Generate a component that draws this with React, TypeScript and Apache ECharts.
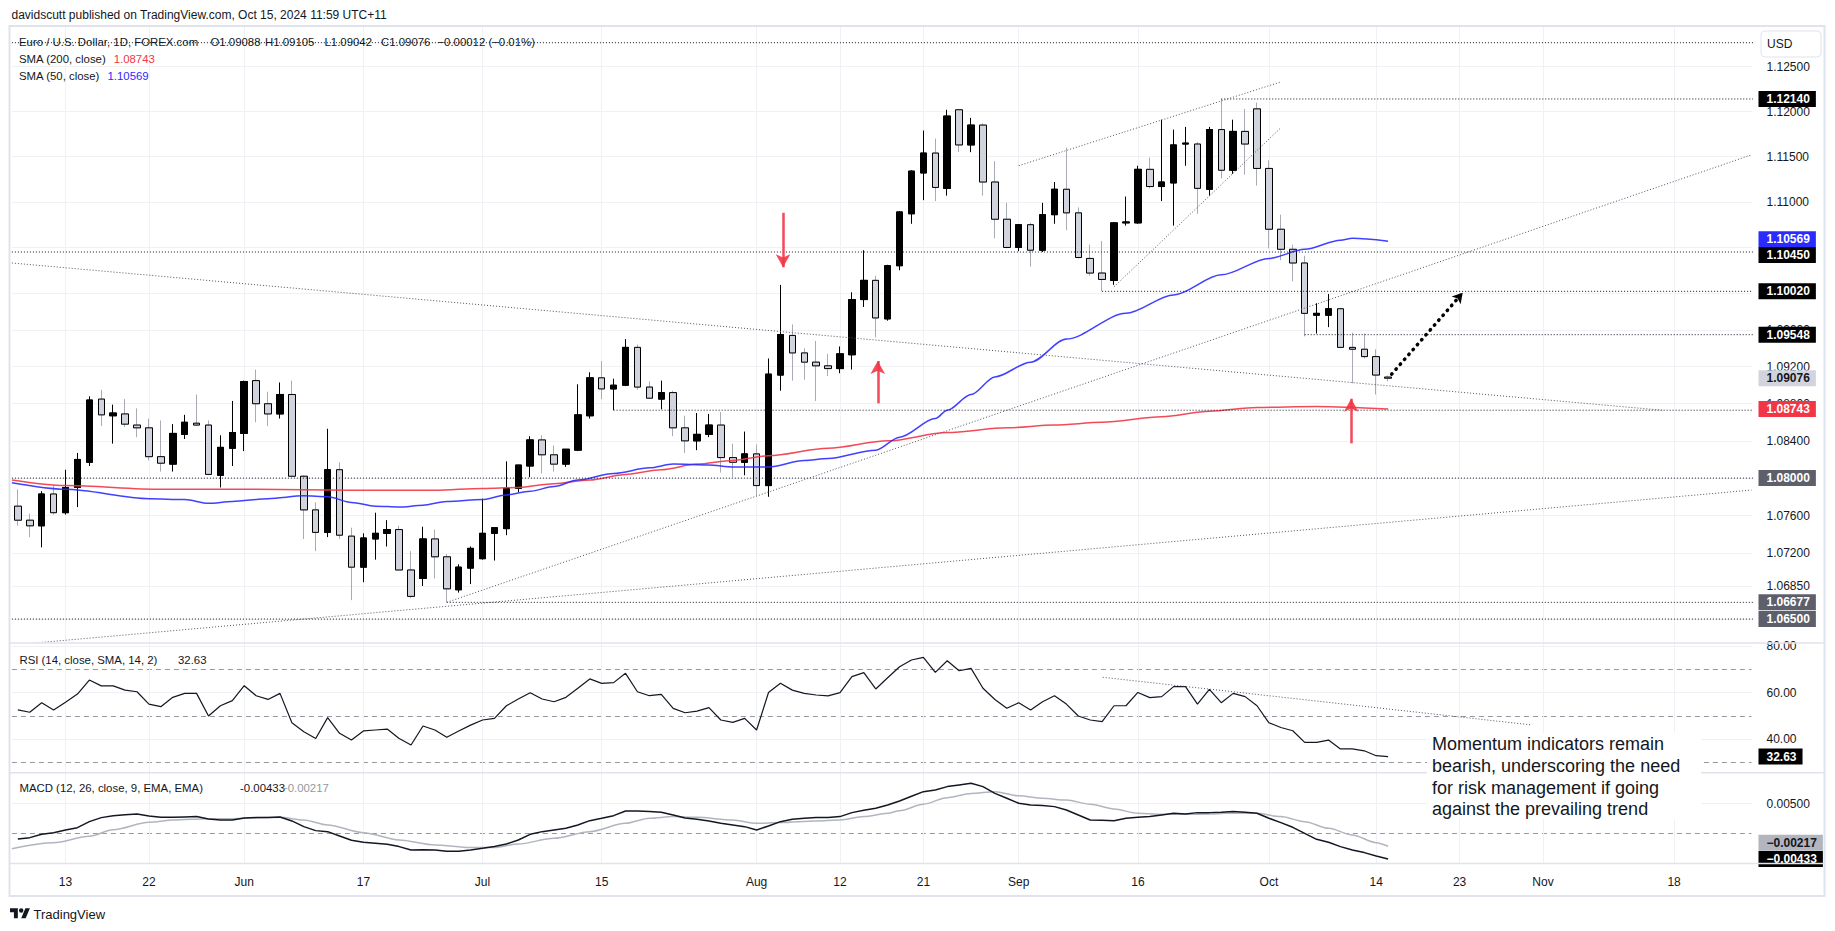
import React, { useEffect, useRef } from "react";
import * as echarts from "echarts";

const FONT = '"Liberation Sans", Arial, sans-serif';
const SLOTS = 146;

function weekdays(y: number, m: number, d: number, count: number): string[] {
  const out: string[] = [];
  let t = Date.UTC(y, m - 1, d);
  while (out.length < count) {
    const dt = new Date(t);
    const wd = dt.getUTCDay();
    if (wd !== 0 && wd !== 6) out.push(dt.toISOString().slice(0, 10));
    t += 86400000;
  }
  return out;
}
const dates = weekdays(2024, 5, 7, SLOTS);

const xTickLabels: [string, string][] = [
  ["2024-05-13", "13"], ["2024-05-22", "22"], ["2024-06-03", "Jun"], ["2024-06-17", "17"],
  ["2024-07-01", "Jul"], ["2024-07-15", "15"], ["2024-08-01", "Aug"], ["2024-08-12", "12"],
  ["2024-08-21", "21"], ["2024-09-02", "Sep"], ["2024-09-16", "16"], ["2024-10-01", "Oct"],
  ["2024-10-14", "14"], ["2024-10-23", "23"], ["2024-11-01", "Nov"], ["2024-11-18", "18"],
];

// [open, high, low, close]
const candles: [number, number, number, number][] = [
  [1.0770, 1.0788, 1.0749, 1.0755], [1.0755, 1.0762, 1.0737, 1.0749], [1.0749, 1.0786, 1.0726, 1.0783], [1.0783, 1.0792, 1.0761, 1.0763],
  [1.0763, 1.0809, 1.0761, 1.0790], [1.0790, 1.0827, 1.0769, 1.0820], [1.0817, 1.0888, 1.0813, 1.0884], [1.0885, 1.0895, 1.0856, 1.0868], [1.0867, 1.0879, 1.0837, 1.0870],
  [1.0869, 1.0885, 1.0855, 1.0858], [1.0857, 1.0875, 1.0844, 1.0854], [1.0854, 1.0864, 1.0819, 1.0823], [1.0823, 1.0862, 1.0807, 1.0816], [1.0815, 1.0858, 1.0807, 1.0848],
  [1.0847, 1.0868, 1.0842, 1.0860], [1.0859, 1.0890, 1.0856, 1.0857], [1.0857, 1.0862, 1.0803, 1.0804], [1.0803, 1.0846, 1.0790, 1.0833], [1.0832, 1.0883, 1.0813, 1.0849],
  [1.0848, 1.0905, 1.0829, 1.0904], [1.0905, 1.0917, 1.0860, 1.0880], [1.0880, 1.0893, 1.0856, 1.0869], [1.0869, 1.0903, 1.0864, 1.0890], [1.0890, 1.0905, 1.0801, 1.0802],
  [1.0802, 1.0803, 1.0735, 1.0766], [1.0766, 1.0774, 1.0722, 1.0742], [1.0742, 1.0853, 1.0737, 1.0809], [1.0809, 1.0817, 1.0735, 1.0739], [1.0738, 1.0747, 1.0670, 1.0705],
  [1.0705, 1.0741, 1.0689, 1.0736], [1.0735, 1.0763, 1.0713, 1.0741], [1.0741, 1.0755, 1.0727, 1.0745], [1.0745, 1.0749, 1.0702, 1.0702], [1.0702, 1.0722, 1.0672, 1.0674],
  [1.0693, 1.0748, 1.0685, 1.0735], [1.0735, 1.0745, 1.0693, 1.0716], [1.0716, 1.0719, 1.0668, 1.0682], [1.0681, 1.0708, 1.0678, 1.0705], [1.0704, 1.0727, 1.0687, 1.0725],
  [1.0714, 1.0778, 1.0713, 1.0741], [1.0741, 1.0747, 1.0712, 1.0747], [1.0746, 1.0818, 1.0739, 1.0789], [1.0789, 1.0814, 1.0785, 1.0814], [1.0813, 1.0845, 1.0801, 1.0841],
  [1.0841, 1.0846, 1.0805, 1.0825], [1.0825, 1.0835, 1.0807, 1.0815], [1.0815, 1.0831, 1.0812, 1.0831], [1.0830, 1.0901, 1.0829, 1.0868], [1.0867, 1.0914, 1.0864, 1.0908],
  [1.0908, 1.0926, 1.0885, 1.0896], [1.0896, 1.0907, 1.0873, 1.0900], [1.0900, 1.0950, 1.0899, 1.0941], [1.0941, 1.0944, 1.0895, 1.0898], [1.0898, 1.0904, 1.0886, 1.0886],
  [1.0885, 1.0905, 1.0874, 1.0892], [1.0892, 1.0894, 1.0845, 1.0854], [1.0854, 1.0867, 1.0827, 1.0840], [1.0840, 1.0870, 1.0830, 1.0847], [1.0847, 1.0869, 1.0844, 1.0857],
  [1.0857, 1.0871, 1.0806, 1.0822], [1.0822, 1.0837, 1.0801, 1.0817], [1.0817, 1.0850, 1.0803, 1.0826], [1.0826, 1.0836, 1.0781, 1.0792], [1.0792, 1.0929, 1.0780, 1.0912],
  [1.0911, 1.1009, 1.0894, 1.0955], [1.0954, 1.0966, 1.0905, 1.0935], [1.0935, 1.0940, 1.0906, 1.0925], [1.0925, 1.0948, 1.0883, 1.0921], [1.0921, 1.0934, 1.0910, 1.0918],
  [1.0918, 1.0942, 1.0913, 1.0934], [1.0933, 1.1001, 1.0917, 1.0993], [1.0993, 1.1047, 1.0985, 1.1014], [1.1014, 1.1019, 1.0952, 1.0973], [1.0972, 1.1031, 1.0970, 1.1030],
  [1.1030, 1.1090, 1.1025, 1.1089], [1.1087, 1.1135, 1.1076, 1.1134], [1.1132, 1.1179, 1.1102, 1.1154], [1.1154, 1.1170, 1.1101, 1.1116], [1.1115, 1.1202, 1.1107, 1.1195],
  [1.1202, 1.1203, 1.1155, 1.1163], [1.1163, 1.1193, 1.1155, 1.1185], [1.1185, 1.1187, 1.1107, 1.1122], [1.1122, 1.1145, 1.1060, 1.1081], [1.1081, 1.1099, 1.1049, 1.1050],
  [1.1050, 1.1075, 1.1046, 1.1075], [1.1075, 1.1077, 1.1029, 1.1047], [1.1047, 1.1099, 1.1045, 1.1086], [1.1086, 1.1122, 1.1076, 1.1114], [1.1114, 1.1160, 1.1069, 1.1088],
  [1.1088, 1.1094, 1.1038, 1.1039], [1.1038, 1.1053, 1.1019, 1.1022], [1.1022, 1.1057, 1.1002, 1.1015], [1.1014, 1.1078, 1.1009, 1.1077], [1.1077, 1.1106, 1.1074, 1.1078],
  [1.1077, 1.1140, 1.1076, 1.1136], [1.1136, 1.1149, 1.1115, 1.1117], [1.1117, 1.1191, 1.1101, 1.1122], [1.1121, 1.1180, 1.1074, 1.1163], [1.1164, 1.1183, 1.1140, 1.1165],
  [1.1164, 1.1166, 1.1087, 1.1115], [1.1114, 1.1183, 1.1107, 1.1180], [1.1180, 1.1214, 1.1126, 1.1135], [1.1135, 1.1191, 1.1131, 1.1178], [1.1178, 1.1203, 1.1130, 1.1164],
  [1.1203, 1.1210, 1.1118, 1.1137], [1.1137, 1.1146, 1.1049, 1.1070], [1.1070, 1.1086, 1.1036, 1.1048], [1.1048, 1.1053, 1.1013, 1.1033], [1.1033, 1.1041, 1.0953, 1.0978],
  [1.0976, 1.0989, 1.0956, 1.0978], [1.0976, 1.0999, 1.0963, 1.0983], [1.0983, 1.0984, 1.0941, 1.0941], [1.0941, 1.0957, 1.0902, 1.0939], [1.0939, 1.0956, 1.0929, 1.0931],
  [1.0931, 1.0939, 1.0890, 1.0911], [1.09088, 1.09105, 1.09042, 1.09076],
];

// [slot, value]
const sma200: [number, number][] = [
  [-0.5, 1.0798], [4, 1.0792], [12, 1.0788], [20, 1.0788], [28, 1.0787], [35, 1.0787], [39, 1.0789], [42, 1.0790],
  [45, 1.0794], [48, 1.0798], [51, 1.0804], [54, 1.0809], [57, 1.0815], [60, 1.0819], [63, 1.0824], [68, 1.0832],
  [73, 1.0840], [78, 1.0849], [83, 1.0854], [87, 1.0857], [91, 1.0860], [96, 1.0866], [100, 1.0872], [104, 1.0876],
  [109, 1.0877], [115, 1.08743],
];
const sma50: [number, number][] = [
  [-0.5, 1.0795], [4, 1.0788], [11, 1.0778], [14, 1.0777], [16, 1.0773], [18, 1.0775], [21, 1.0778], [24, 1.0781],
  [26, 1.0780], [28, 1.0774], [30, 1.0770], [32, 1.0769], [34, 1.0771], [36, 1.0775], [39, 1.0777], [41, 1.0782],
  [43, 1.0786], [45, 1.0791], [47, 1.0798], [50, 1.0805], [53, 1.0811], [55, 1.0815], [58, 1.0814], [60, 1.0812],
  [63, 1.0812], [66, 1.0819], [68, 1.0821], [72, 1.0830], [74, 1.0844], [77, 1.0864], [78, 1.0873], [80, 1.0890],
  [82, 1.0909], [85, 1.0925], [88, 1.0950], [93, 1.0978], [97, 1.0998], [101, 1.1020], [105, 1.1038], [108, 1.1048],
  [111, 1.1058], [112, 1.1060], [115, 1.10569],
];

const rsi: number[] = [
  52.6, 51.6, 55.7, 52.6, 55.9, 59.4, 65.4, 62.9, 62.9, 61.1,
  60.4, 55.1, 54.0, 58.0, 59.7, 59.7, 50.0, 54.4, 56.6, 63.0,
  58.7, 57.1, 59.7, 47.1, 43.3, 40.4, 49.3, 42.6, 39.7, 43.6,
  44.0, 44.4, 40.4, 37.6, 45.7, 44.0, 40.9, 43.6, 46.1, 48.3,
  49.0, 54.4, 57.3, 60.0, 57.3, 56.1, 58.0, 61.9, 65.9, 64.0,
  64.3, 68.3, 60.4, 58.7, 59.3, 53.3, 51.4, 52.1, 53.6, 48.3,
  47.3, 49.0, 44.0, 60.1, 64.0, 61.1, 59.7, 59.0, 58.6, 60.0,
  66.9, 68.6, 61.6, 66.4, 71.1, 74.0, 75.1, 68.7, 73.7, 69.4,
  70.4, 61.9, 57.1, 53.3, 55.7, 52.6, 56.1, 58.7, 55.1, 50.0,
  48.3, 47.6, 54.4, 54.4, 60.1, 57.9, 58.3, 62.6, 62.6, 55.1,
  61.4, 55.7, 59.7, 58.3, 54.4, 47.1, 45.1, 43.7, 38.7, 38.7,
  39.7, 35.9, 35.9, 35.1, 33.0, 32.63,
];

const macd: number[] = [
  -0.00095, -0.00073, -0.00017, 0.00011, 0.00056, 0.00095, 0.00196, 0.00264, 0.00297, 0.00314,
  0.00325, 0.00292, 0.00269, 0.00269, 0.00275, 0.00281, 0.00241, 0.00224, 0.00224, 0.00258,
  0.00264, 0.00264, 0.00275, 0.00208, 0.00112, 0.00045, 0.00028, -0.00045, -0.00118, -0.00152,
  -0.00168, -0.00185, -0.00224, -0.00281, -0.00275, -0.00281, -0.00303, -0.00303, -0.00281, -0.00253,
  -0.00224, -0.00180, -0.00112, -0.00017, 0.00028, 0.00056, 0.00084, 0.00140, 0.00213, 0.00253,
  0.00297, 0.00376, 0.00376, 0.00365, 0.00354, 0.00309, 0.00258, 0.00236, 0.00208, 0.00168,
  0.00140, 0.00112, 0.00056, 0.00123, 0.00196, 0.00236, 0.00253, 0.00264, 0.00264, 0.00281,
  0.00348, 0.00387, 0.00421, 0.00477, 0.00544, 0.00623, 0.00701, 0.00730, 0.00786, 0.00814,
  0.00842, 0.00786, 0.00673, 0.00589, 0.00505, 0.00477, 0.00466, 0.00449, 0.00393, 0.00309,
  0.00224, 0.00219, 0.00213, 0.00253, 0.00269, 0.00281, 0.00309, 0.00337, 0.00325, 0.00348,
  0.00348, 0.00354, 0.00365, 0.00354, 0.00337, 0.00253, 0.00180, 0.00101, 0.00000, -0.00101,
  -0.00152, -0.00224, -0.00281, -0.00325, -0.00382, -0.00433,
];

const signal: [number, number][] = [
  [-0.5, -0.0026], [3, -0.0016], [6, -0.0005], [8, 0.0006], [11, 0.00185], [13, 0.00224], [16, 0.00247], [18, 0.00247],
  [21, 0.00264], [22, 0.00269], [24, 0.00224], [26, 0.0014], [29, 0.00011], [32, -0.00112], [35, -0.00196], [38, -0.00241],
  [40, -0.00241], [42, -0.0018], [45, -0.00084], [48, 0.00028], [51, 0.00168], [53, 0.00253], [55, 0.00281], [57, 0.00269],
  [60, 0.00224], [62, 0.00168], [64, 0.0018], [67, 0.00208], [69, 0.00224], [71, 0.00281], [73, 0.00337], [74, 0.0038],
  [76, 0.0049], [78, 0.006], [80, 0.0067], [82, 0.0070], [84, 0.0063], [86, 0.0059], [88, 0.0056], [90, 0.0049],
  [92, 0.0041], [94, 0.00337], [96, 0.0032], [98, 0.0032], [100, 0.00325], [102, 0.0034], [104, 0.00337], [106, 0.00281],
  [108, 0.00196], [110, 0.00084], [112, -0.00028], [114, -0.00157], [115, -0.00217],
];

// price gridlines; labelled ones are those not hidden behind a tag
const priceGrid = [1.125, 1.12, 1.115, 1.11, 1.105, 1.1, 1.096, 1.092, 1.088, 1.084, 1.08, 1.076, 1.072, 1.0685, 1.065];
const priceLabels = [1.125, 1.12, 1.115, 1.11, 1.096, 1.092, 1.088, 1.084, 1.076, 1.072, 1.0685];
const drawnLevels = [1.1214, 1.1002, 1.09548];
const level1045 = 1.1045;
const roundLevels = [1.08, 1.06677, 1.065];
const lastClose = 1.09076;
const sma200Last = 1.08743;
const sma50Last = 1.10569;
const rsiLast = 32.63;
const macdLast = -0.00433;
const signalLast = -0.00217;

// horizontal drawings: [anchor date or null for full width, price]
const hLines: [string | null, number][] = [
  [null, 1.12768], ["2024-09-25", 1.1214], [null, 1.1045], ["2024-09-11", 1.1002],
  ["2024-10-04", 1.09548], ["2024-07-16", 1.0873], [null, 1.08], ["2024-06-26", 1.06677], [null, 1.065],
];
// trend lines: [[slot, price], [slot, price]]
const trendLines: [[number, number], [number, number]][] = [
  [[-0.5, 1.1033], [138.0, 1.0873]],
  [[36, 1.06677], [145.5, 1.1152]],
  [[-0.5, 1.06226], [145.5, 1.07872]],
  [[84, 1.114], [106, 1.1233]],
  [[92, 1.1007], [106, 1.1182]],
];
// [slot, tail price, head price]
const redArrows: [number, number, number][] = [
  [64.22, 1.10881, 1.10283],
  [72.17, 1.08804, 1.09262],
  [111.9, 1.08373, 1.08854],
];
const projection: [[number, number], [number, number]] = [[115.3, 1.0912], [121.26, 1.10004]];
const rsiTrend: [[number, number], [number, number]] = [[91.05, 66.6], [127.0, 46.2]];

const annotation = [
  "Momentum indicators remain",
  "bearish, underscoring the need",
  "for risk management if going",
  "against the prevailing trend",
];

echarts.graphic.registerShape(
  "tvlogo",
  echarts.graphic.extendPath(
    "M14 22H7V11H0V4h14v18zM28 22h-8l7.5-18h8L28 22zM20 12a4 4 0 1 0 0-8 4 4 0 0 0 0 8z",
    {}
  ) as any
);

const GRID = "#eff1f5";
const INK = "#131722";
const RED = "#f23645";
const BLUE = "#2b2bff";

function buildOption(): any {
  const idx = (d: string) => dates.indexOf(d);
  const tickMap: Record<string, string> = {};
  xTickLabels.forEach(([d, l]) => (tickMap[d] = l));
  const vGrid = xTickLabels.map(([d]) => ({ xAxis: idx(d), label: { show: false } }));
  const RIGHT = SLOTS - 0.5;

  const tag = (v: number, text: string, bg: string, fg: string, dy = 0) => ({
    yAxis: v,
    label: { formatter: text, backgroundColor: bg, color: fg, offset: [0, dy] },
  });

  const helperBase = (xi: number, yi: number) => ({
    type: "line", xAxisIndex: xi, yAxisIndex: yi, data: [], silent: true, clip: false, symbol: "none",
  });

  const gridMarkLine = (items: any[]) => ({
    silent: true, symbol: "none", precision: 8, animation: false, z: 1,
    lineStyle: { color: GRID, width: 1, type: "solid" },
    label: { show: true, position: "end", distance: 15, color: INK, fontFamily: FONT, fontSize: 12 },
    data: items,
  });

  const tagMarkLine = (items: any[]) => ({
    silent: true, symbol: "none", precision: 8, animation: false, z: 20,
    lineStyle: { color: "rgba(0,0,0,0)", width: 0 },
    label: {
      show: true, position: "end", distance: 7, fontFamily: FONT, fontSize: 12, fontWeight: "bold",
      lineHeight: 13, padding: [2, 6, 1, 8],
    },
    data: items,
  });

  const series: any[] = [];

  // main pane grid + tick labels
  series.push({
    ...helperBase(1, 0), z: 1,
    markLine: gridMarkLine([
      ...priceGrid.map((v) =>
        priceLabels.indexOf(v) >= 0
          ? { yAxis: v, label: { formatter: v.toFixed(5) } }
          : { yAxis: v, label: { show: false } }
      ),
      ...vGrid,
    ]),
  });

  // candles: wicks layer then bodies layer
  series.push({
    type: "candlestick", xAxisIndex: 0, yAxisIndex: 0, barWidth: 7, z: 3, silent: true,
    data: candles.map(([o, h, l, c]) => [o, c, l, h]),
    itemStyle: { color: "rgba(0,0,0,0)", color0: "rgba(0,0,0,0)", borderColor: "#000", borderColor0: "#a8abb4", borderWidth: 1 },
  });
  series.push({
    type: "candlestick", xAxisIndex: 0, yAxisIndex: 0, barWidth: 7, z: 4, silent: true,
    data: candles.map(([o, , , c]) => [o, c, Math.min(o, c), Math.max(o, c)]),
    itemStyle: { color: "#000", color0: "#d1d4dc", borderColor: "#000", borderColor0: "#000", borderWidth: 1 },
  });

  // SMAs
  series.push({
    type: "line", xAxisIndex: 1, yAxisIndex: 0, data: sma200, symbol: "none", silent: true, z: 5,
    smooth: 0.3, smoothMonotone: "x", lineStyle: { color: RED, width: 1.5, opacity: 0.9 },
  });
  series.push({
    type: "line", xAxisIndex: 1, yAxisIndex: 0, data: sma50, symbol: "none", silent: true, z: 5,
    smooth: 0.3, smoothMonotone: "x", lineStyle: { color: BLUE, width: 1.5, opacity: 0.9 },
  });

  // horizontal drawn lines
  hLines.forEach(([d, p]) => {
    series.push({
      type: "line", xAxisIndex: 1, yAxisIndex: 0, symbol: "none", silent: true, z: 6, clip: false,
      data: [[d ? idx(d) : -0.5, p], [RIGHT + 0.3, p]],
      lineStyle: { color: INK, width: 1, type: [1, 2] },
    });
  });
  // trend lines
  trendLines.forEach((seg) => {
    series.push({
      type: "line", xAxisIndex: 1, yAxisIndex: 0, symbol: "none", silent: true, z: 6,
      data: seg, lineStyle: { color: "#50535e", width: 1, type: [1, 2] },
    });
  });

  // red arrows
  series.push({
    ...helperBase(1, 0), z: 8,
    markLine: {
      silent: true, precision: 8, animation: false, z: 8, symbol: ["none", "arrow"], symbolSize: [11, 13],
      lineStyle: { color: RED, width: 2.5, type: "solid", opacity: 0.9 },
      label: { show: false },
      data: redArrows.map(([x, a, b]) => [{ coord: [x, a] }, { coord: [x, b] }]),
    },
  });
  // projection arrow
  series.push({
    ...helperBase(1, 0), z: 8,
    markLine: {
      silent: true, precision: 8, animation: false, z: 8, symbol: ["none", "arrow"], symbolSize: [9, 10],
      lineStyle: { color: "#000", width: 3.5, type: [0.5, 6], cap: "round" },
      label: { show: false },
      data: [[{ coord: projection[0] }, { coord: projection[1] }]],
    },
  });

  // main tags
  series.push({
    ...helperBase(1, 0), z: 20,
    markLine: tagMarkLine([
      ...roundLevels.map((v) => tag(v, v.toFixed(5), "#5d606b", "#fff")),
      ...drawnLevels.map((v) => tag(v, v.toFixed(5), "#000", "#fff")),
      tag(level1045, level1045.toFixed(5), "#000", "#fff", 3),
      tag(lastClose, lastClose.toFixed(5), "#d1d4dc", INK),
      tag(sma200Last, sma200Last.toFixed(5), RED, "#fff"),
      tag(sma50Last, sma50Last.toFixed(5), BLUE, "#fff", -2),
    ]),
  });

  // RSI pane
  series.push({
    ...helperBase(3, 1), z: 1,
    markLine: gridMarkLine([
      { yAxis: 80, label: { formatter: "80.00" } },
      { yAxis: 60, label: { formatter: "60.00" } },
      { yAxis: 40, label: { formatter: "40.00" } },
      ...[70, 50, 30].map((v) => ({ yAxis: v, label: { show: false }, lineStyle: { color: "#9598a1", type: [5, 4] } })),
      ...vGrid,
    ]),
  });
  series.push({
    type: "line", xAxisIndex: 2, yAxisIndex: 1, data: rsi, symbol: "none", silent: true, z: 5,
    lineStyle: { color: INK, width: 1.2 },
  });
  series.push({
    type: "line", xAxisIndex: 3, yAxisIndex: 1, data: rsiTrend, symbol: "none", silent: true, z: 6,
    lineStyle: { color: "#50535e", width: 1, type: [1, 2] },
  });
  series.push({
    ...helperBase(3, 1), z: 20,
    markLine: tagMarkLine([tag(rsiLast, rsiLast.toFixed(2), "#000", "#fff")]),
  });

  // MACD pane
  series.push({
    ...helperBase(5, 2), z: 1,
    markLine: gridMarkLine([
      { yAxis: 0.005, label: { formatter: "0.00500" } },
      { yAxis: -0.005, label: { show: false } },
      { yAxis: 0, label: { show: false }, lineStyle: { color: "#9598a1", type: [5, 4] } },
      ...vGrid,
    ]),
  });
  series.push({
    type: "line", xAxisIndex: 5, yAxisIndex: 2, data: signal, symbol: "none", silent: true, z: 5,
    smooth: 0.3, smoothMonotone: "x", lineStyle: { color: "#b2b5be", width: 1.5 },
  });
  series.push({
    type: "line", xAxisIndex: 4, yAxisIndex: 2, data: macd, symbol: "none", silent: true, z: 6,
    lineStyle: { color: INK, width: 1.5 },
  });
  series.push({
    ...helperBase(5, 2), z: 20,
    markLine: tagMarkLine([
      tag(signalLast, "\u22120.00217", "#b2b5be", INK, -3.5),
      tag(macdLast, "\u22120.00433", "#000", "#fff"),
    ]),
  });

  const GL = 11.9, GW = 1739.6;
  const hidden = { show: false, splitLine: { show: false } };
  const valX = (gi: number) => ({ type: "value", gridIndex: gi, min: -0.5, max: RIGHT, ...hidden });

  const LEG = `11.4px ${FONT}`;
  const T = (x: number, y: number, text: string, extra: any = {}) => ({
    type: "text", x, y, z: 100, silent: true,
    style: { text, fill: INK, font: LEG, verticalAlign: "middle", align: "left", ...extra },
  });
  const hl = (y: number) => ({
    type: "line", z: 90, silent: true,
    shape: { x1: 9.5, y1: y, x2: 1824.5, y2: y }, style: { stroke: "#e0e3eb", lineWidth: 1.5 },
  });

  const graphic = [
    { type: "rect", z: 90, silent: true, shape: { x: 9.5, y: 26, width: 1815, height: 870 }, style: { fill: "none", stroke: "#e0e3eb", lineWidth: 2 } },
    hl(643), hl(772.8), hl(863.5),
    { type: "rect", z: 95, silent: true, shape: { x: 1761, y: 31, width: 60, height: 26, r: 4 }, style: { fill: "#fff", stroke: "#e0e3eb", lineWidth: 1 } },
    T(1767, 44, "USD", { font: `12px ${FONT}` }),
    T(11.5, 15, "davidscutt published on TradingView.com, Oct 15, 2024 11:59 UTC+11", { font: `12px ${FONT}` }),
    T(19, 42.3, "Euro / U.S. Dollar, 1D, FOREX.com"),
    T(210.5, 42.3, "O1.09088"),
    T(265, 42.3, "H1.09105"),
    T(324.5, 42.3, "L1.09042"),
    T(381, 42.3, "C1.09076"),
    T(437.4, 42.3, "\u22120.00012 (\u22120.01%)"),
    T(19, 59, "SMA (200, close)"),
    T(113.7, 59, sma200Last.toFixed(5), { fill: RED }),
    T(19, 75.7, "SMA (50, close)"),
    T(107.5, 75.7, sma50Last.toFixed(5), { fill: BLUE }),
    T(19.4, 660, "RSI (14, close, SMA, 14, 2)"),
    T(178, 660, rsiLast.toFixed(2)),
    T(19.4, 788.3, "MACD (12, 26, close, 9, EMA, EMA)"),
    T(240, 788.3, "-0.00433"),
    T(281, 788.3, "\u22120.00217", { fill: "#9598a1" }),
    { type: "rect", z: 98, silent: true, shape: { x: 1427, y: 733, width: 274, height: 86 }, style: { fill: "#fff" } },
    {
      type: "text", x: 1432, y: 733.5, z: 100, silent: true,
      style: { text: annotation.join("\n"), fill: INK, font: `18px ${FONT}`, lineHeight: 21.7, verticalAlign: "top", align: "left" },
    },
    { type: "tvlogo", x: 10, y: 906, scaleX: 0.56, scaleY: 0.56, z: 100, silent: true, style: { fill: INK } },
    T(33.5, 914, "TradingView", { font: `13px ${FONT}` }),
  ];

  return {
    animation: false,
    backgroundColor: "#fff",
    textStyle: { fontFamily: FONT },
    grid: [
      { left: GL, width: GW, top: 26, height: 616 },
      { left: GL, width: GW, top: 643.5, height: 129 },
      { left: GL, width: GW, top: 773, height: 90.3 },
    ],
    xAxis: [
      { type: "category", gridIndex: 0, data: dates, ...hidden },
      valX(0),
      { type: "category", gridIndex: 1, data: dates, ...hidden },
      valX(1),
      {
        type: "category", gridIndex: 2, data: dates,
        axisLine: { show: false }, axisTick: { show: false }, splitLine: { show: false },
        axisLabel: {
          show: true, margin: 13, color: INK, fontSize: 12, fontFamily: FONT,
          showMinLabel: true, showMaxLabel: true,
          interval: (_i: number, v: string) => tickMap[v] !== undefined,
          formatter: (v: string) => tickMap[v] || "",
        },
      },
      valX(2),
    ],
    yAxis: [
      { type: "log", logBase: 10, gridIndex: 0, min: 1.06258, max: 1.12955, ...hidden },
      { type: "value", gridIndex: 1, min: 25.8, max: 81.07, ...hidden },
      { type: "value", gridIndex: 2, min: -0.00505, max: 0.01015, ...hidden },
    ],
    series,
    graphic,
  };
}

export default function App() {
  const ref = useRef<HTMLDivElement>(null);
  useEffect(() => {
    const el = ref.current;
    if (!el) return;
    const chart = echarts.init(el, null, { renderer: "svg" });
    chart.setOption(buildOption());
    return () => chart.dispose();
  }, []);
  return (
    <div
      ref={ref}
      style={{ position: "fixed", left: 0, top: 0, width: 1835, height: 931, background: "#fff" }}
    />
  );
}
